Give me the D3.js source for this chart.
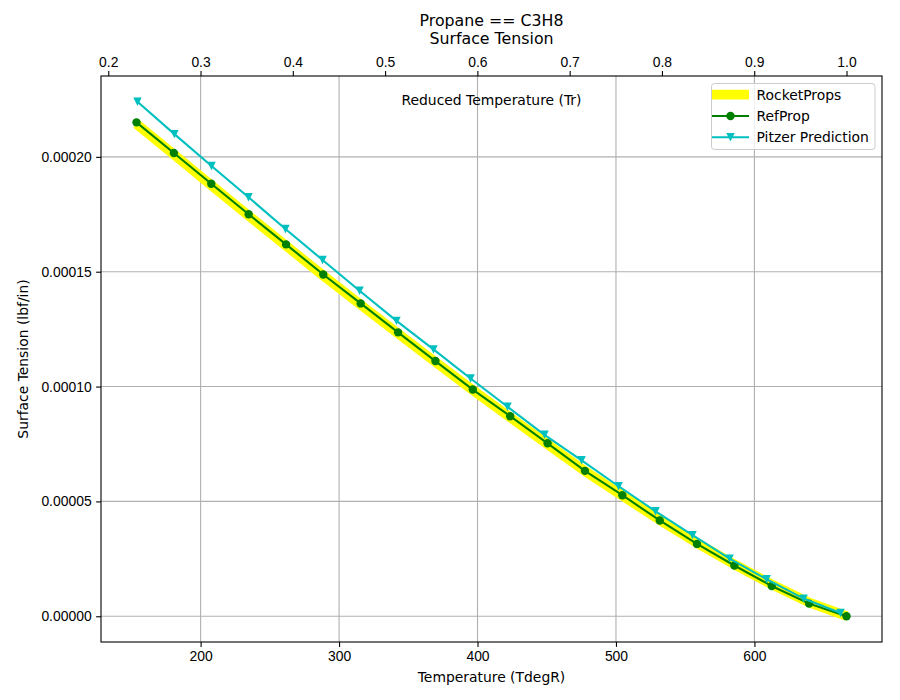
<!DOCTYPE html>
<html>
<head>
<meta charset="utf-8">
<script src="https://cdn.jsdelivr.net/npm/d3@7"></script>
<style>
  body { margin: 0; background: #fff; }
  svg { font-family: 'DejaVu Sans', sans-serif; }
</style>
</head>
<body>
<div id="chart"></div>
<script>
// Critical temperature used for reduced temperature axis (degR)
const Tc = 666.5;

// RefProp (green circles)
const refT = [153.7, 180.7, 207.7, 234.7, 261.7, 288.6, 315.6, 342.6, 369.6, 396.6,
              423.6, 450.6, 477.6, 504.6, 531.6, 558.5, 585.5, 612.5, 639.5, 666.5];
const refST = [2.150e-4, 2.017e-4, 1.883e-4, 1.750e-4, 1.619e-4, 1.488e-4, 1.362e-4, 1.236e-4, 1.111e-4, 0.987e-4,
               0.871e-4, 0.753e-4, 0.633e-4, 0.527e-4, 0.417e-4, 0.315e-4, 0.221e-4, 0.132e-4, 0.055e-4, 0.000];

// RocketProps (thick yellow line)
const rpT = refT;
const rpST = [2.143e-4, 2.010e-4, 1.876e-4, 1.744e-4, 1.613e-4, 1.483e-4, 1.356e-4, 1.231e-4, 1.107e-4, 0.984e-4,
              0.866e-4, 0.749e-4, 0.632e-4, 0.525e-4, 0.419e-4, 0.319e-4, 0.226e-4, 0.139e-4, 0.060e-4, 0.001e-4];

// Pitzer prediction (cyan triangles)
const pzT = [154.4, 181.1, 207.9, 234.6, 261.3, 288.1, 314.8, 341.5, 368.2, 395.0,
             421.7, 448.4, 475.2, 501.9, 528.6, 555.3, 582.1, 608.8, 635.5, 662.2];
const pzST = [2.240e-4, 2.099e-4, 1.960e-4, 1.824e-4, 1.686e-4, 1.551e-4, 1.417e-4, 1.286e-4, 1.162e-4, 1.035e-4,
              0.912e-4, 0.790e-4, 0.679e-4, 0.566e-4, 0.457e-4, 0.353e-4, 0.251e-4, 0.161e-4, 0.077e-4, 0.014e-4];

const xTicks = [200, 300, 400, 500, 600];
const yTicks = [0, 0.00005, 0.00010, 0.00015, 0.00020];
const trTicks = [0.2, 0.3, 0.4, 0.5, 0.6, 0.7, 0.8, 0.9, 1.0];

const width = 900, height = 700;
const margin = { top: 76, right: 18, bottom: 58, left: 101 };
const innerW = width - margin.left - margin.right;
const innerH = height - margin.top - margin.bottom;

// matplotlib-like 5% margins
function padded(vals) {
  const [a, b] = d3.extent(vals);
  const m = (b - a) * 0.05;
  return [a - m, b + m];
}
const xDom = padded(refT.concat(pzT, rpT));
const yDom = padded(refST.concat(pzST, rpST));

const x = d3.scaleLinear().domain(xDom).range([0, innerW]);
const y = d3.scaleLinear().domain(yDom).range([innerH, 0]);
const xr = d3.scaleLinear().domain([xDom[0] / Tc, xDom[1] / Tc]).range([0, innerW]);

const svg = d3.select('#chart').append('svg')
  .attr('width', width).attr('height', height);

const g = svg.append('g').attr('transform', `translate(${margin.left},${margin.top})`);

// grid
g.append('g').selectAll('line').data(xTicks).join('line')
  .attr('x1', d => x(d)).attr('x2', d => x(d)).attr('y1', 0).attr('y2', innerH)
  .attr('stroke', '#b0b0b0').attr('stroke-width', 1.1);
g.append('g').selectAll('line').data(yTicks).join('line')
  .attr('y1', d => y(d)).attr('y2', d => y(d)).attr('x1', 0).attr('x2', innerW)
  .attr('stroke', '#b0b0b0').attr('stroke-width', 1.1);

// axes
function styleAxis(sel) {
  sel.select('.domain').remove();
  sel.selectAll('.tick line').attr('stroke', '#000').attr('stroke-width', 1.1);
  sel.selectAll('.tick text').attr('fill', '#000').style('font-size', '13.9px');
}
g.append('g').attr('transform', `translate(0,${innerH})`)
  .call(d3.axisBottom(x).tickValues(xTicks).tickSize(4.9).tickPadding(4.5).tickFormat(d3.format('d')))
  .call(styleAxis);
g.append('g')
  .call(d3.axisLeft(y).tickValues(yTicks).tickSize(4.9).tickPadding(4.5).tickFormat(d3.format('.5f')))
  .call(styleAxis);
g.append('g')
  .call(d3.axisTop(xr).tickValues(trTicks).tickSize(4.9).tickPadding(4.5).tickFormat(d3.format('.1f')))
  .call(styleAxis);

// series
const line = d3.line().x(d => x(d[0])).y(d => y(d[1]));
const rpData = d3.zip(rpT, rpST);
const refData = d3.zip(refT, refST);
const pzData = d3.zip(pzT, pzST);

g.append('path').datum(rpData).attr('d', line)
  .attr('fill', 'none').attr('stroke', '#ffff00').attr('stroke-width', 9.7)
  .attr('stroke-linejoin', 'round');

g.append('path').datum(refData).attr('d', line)
  .attr('fill', 'none').attr('stroke', '#008000').attr('stroke-width', 2.1);
g.append('g').selectAll('circle').data(refData).join('circle')
  .attr('cx', d => x(d[0])).attr('cy', d => y(d[1])).attr('r', 4.2)
  .attr('fill', '#008000');

g.append('path').datum(pzData).attr('d', line)
  .attr('fill', 'none').attr('stroke', '#00bfbf').attr('stroke-width', 2.1);
g.append('g').selectAll('path').data(pzData).join('path')
  .attr('d', 'M0,4.2L-4.2,-4.2L4.2,-4.2Z')
  .attr('transform', d => `translate(${x(d[0])},${y(d[1])})`)
  .attr('fill', '#00bfbf');

// frame
g.append('rect').attr('width', innerW).attr('height', innerH)
  .attr('fill', 'none').attr('stroke', '#000').attr('stroke-width', 1.1);

// labels
const cx = margin.left + innerW / 2;
svg.append('text').attr('x', cx).attr('y', 25.5).attr('text-anchor', 'middle')
  .style('font-size', '15.8px').text('Propane == C3H8');
svg.append('text').attr('x', cx).attr('y', 43.8).attr('text-anchor', 'middle')
  .style('font-size', '15.8px').text('Surface Tension');
svg.append('text').attr('x', cx).attr('y', 105).attr('text-anchor', 'middle')
  .style('font-size', '13.9px').text('Reduced Temperature (Tr)');
svg.append('text').attr('x', cx).attr('y', 681.5).attr('text-anchor', 'middle')
  .style('font-size', '13.9px').text('Temperature (TdegR)');
svg.append('text').attr('transform', `translate(28,${margin.top + innerH / 2}) rotate(-90)`)
  .attr('text-anchor', 'middle').style('font-size', '13.9px').text('Surface Tension (lbf/in)');

// legend
const lg = svg.append('g').attr('transform', 'translate(711.5,83.5)');
lg.append('rect').attr('width', 163.5).attr('height', 66).attr('rx', 3)
  .attr('fill', '#fff').attr('fill-opacity', 0.8).attr('stroke', '#cccccc').attr('stroke-width', 1);
const items = [
  { name: 'RocketProps', color: '#ffff00', w: 9.7, marker: null },
  { name: 'RefProp', color: '#008000', w: 2.1, marker: 'o' },
  { name: 'Pitzer Prediction', color: '#00bfbf', w: 2.1, marker: 'v' }
];
items.forEach((it, i) => {
  const yy = 11.2 + i * 21.3;
  lg.append('line').attr('x1', 0.5).attr('x2', 37.5).attr('y1', yy).attr('y2', yy)
    .attr('stroke', it.color).attr('stroke-width', it.w);
  if (it.marker === 'o') {
    lg.append('circle').attr('cx', 19).attr('cy', yy).attr('r', 4.2).attr('fill', it.color);
  } else if (it.marker === 'v') {
    lg.append('path').attr('d', 'M0,4.2L-4.2,-4.2L4.2,-4.2Z')
      .attr('transform', `translate(19,${yy})`).attr('fill', it.color);
  }
  lg.append('text').attr('x', 45).attr('y', yy + 5).style('font-size', '13.9px').text(it.name);
});
</script>
</body>
</html>
